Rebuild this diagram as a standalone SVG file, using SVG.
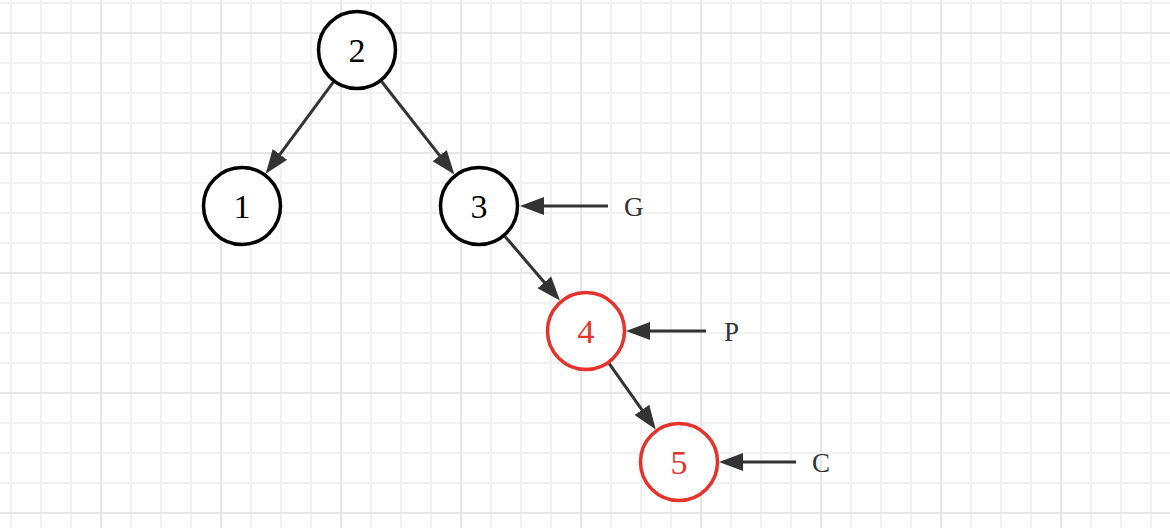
<svg xmlns="http://www.w3.org/2000/svg" width="1170" height="528" viewBox="0 0 1170 528">
  <style>
    .node { fill: #ffffff; stroke-width: 3.5; }
    .black { stroke: #000000; }
    .red { stroke: #e5322a; }
    .num { font-family: "Liberation Serif", "Times New Roman", serif; font-size: 34px; text-anchor: middle; dominant-baseline: central; }
    .lbl { font-family: "Liberation Serif", "Times New Roman", serif; font-size: 27px; fill: #333333; dominant-baseline: central; }
    .edge { stroke: #333333; stroke-width: 3; fill: none; marker-end: url(#arrow); }
  </style>
  <defs>
    <pattern id="minor" patternUnits="userSpaceOnUse" x="-4" y="-12" width="30" height="30">
      <path d="M15 0 V30 M0 15 H30" stroke="#f1f1f1" stroke-width="2" fill="none"/>
    </pattern>
    <pattern id="major" patternUnits="userSpaceOnUse" x="41" y="-27" width="120" height="120">
      <path d="M60 0 V120 M0 60 H120" stroke="#e6e6e6" stroke-width="2" fill="none"/>
    </pattern>
    <marker id="arrow" markerUnits="userSpaceOnUse" markerWidth="26" markerHeight="20" refX="9" refY="10" orient="auto">
      <path d="M0,1 L24,10 L0,19 z" fill="#333333"/>
    </marker>
  </defs>
  <rect width="1170" height="528" fill="#ffffff"/>
  <rect width="1170" height="528" fill="url(#minor)"/>
  <rect width="1170" height="528" fill="url(#major)"/>

  <g id="connectors">
    <line class="edge" x1="333.3" y1="82.2" x2="274.6" y2="161.7"/>
    <line class="edge" x1="381.6" y1="81.5" x2="445.2" y2="162.7"/>
    <line class="edge" x1="505" y1="236.4" x2="550.2" y2="289.2"/>
    <line class="edge" x1="609.2" y1="363.6" x2="647.1" y2="417.2"/>
    <line class="edge" x1="608" y1="206" x2="535" y2="206"/>
    <line class="edge" x1="706" y1="331" x2="641" y2="331"/>
    <line class="edge" x1="796" y1="462" x2="734" y2="462"/>
  </g>

  <g id="node-2">
    <circle class="node black" cx="357" cy="50" r="38.5"/>
    <text class="num" x="357" y="50" fill="#000000">2</text>
  </g>
  <g id="node-1">
    <circle class="node black" cx="242" cy="206" r="38.5"/>
    <text class="num" x="242" y="206" fill="#000000">1</text>
  </g>
  <g id="node-3">
    <circle class="node black" cx="479" cy="206" r="38.5"/>
    <text class="num" x="479" y="206" fill="#000000">3</text>
  </g>
  <g id="node-4">
    <circle class="node red" cx="586" cy="331" r="38.5"/>
    <text class="num" x="586" y="331" fill="#e5322a">4</text>
  </g>
  <g id="node-5">
    <circle class="node red" cx="679" cy="462" r="38.5"/>
    <text class="num" x="679" y="462" fill="#e5322a">5</text>
  </g>

  <g id="label-G"><text class="lbl" x="624" y="207">G</text></g>
  <g id="label-P"><text class="lbl" x="724" y="332">P</text></g>
  <g id="label-C"><text class="lbl" x="812" y="463">C</text></g>
</svg>
